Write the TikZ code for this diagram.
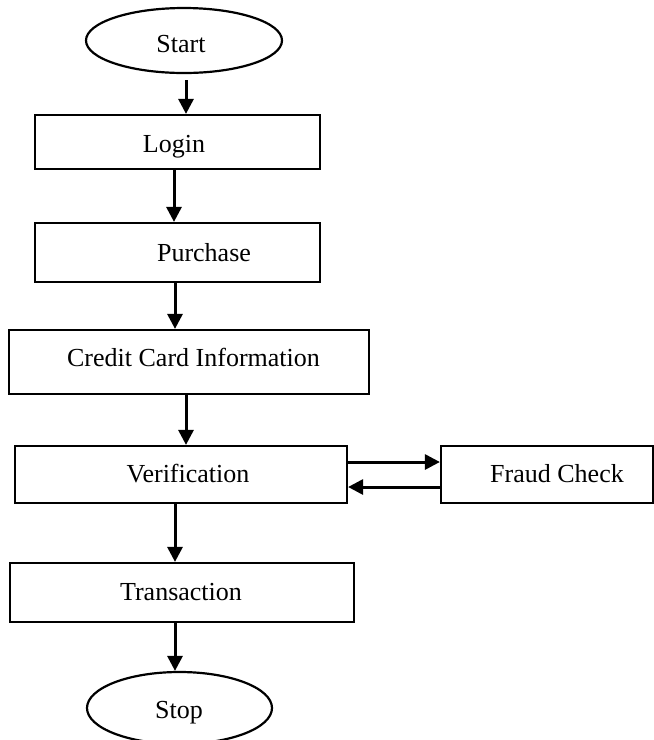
\documentclass[tikz,border=0pt]{standalone}
\usepackage{fontspec}
\setmainfont{Liberation Serif}
\usetikzlibrary{shapes.geometric,arrows.meta}
\tikzset{
  box/.style={draw, line width=2.2pt, rectangle, inner sep=0pt},
  oval/.style={draw, line width=2.2pt, ellipse, inner sep=0pt},
  lbl/.style={anchor=base, inner sep=0pt, font=\fontsize{26}{30}\selectfont},
  arr/.style={line width=3pt, -{Triangle[length=15pt,width=15pt]}}
}
\begin{document}
\begin{tikzpicture}[x=1pt,y=-1pt]
\useasboundingbox (0,0) rectangle (654,740);
% shapes
\node[oval, minimum width=196pt, minimum height=65pt] (start) at (184,40.5) {};
\node[box, minimum width=285pt, minimum height=54pt] (login) at (177.5,142) {};
\node[box, minimum width=285pt, minimum height=59pt] (purchase) at (177.5,252.5) {};
\node[box, minimum width=360pt, minimum height=64pt] (credit) at (189,362) {};
\node[box, minimum width=332pt, minimum height=57pt] (verif) at (181,474.5) {};
\node[box, minimum width=212pt, minimum height=57pt] (fraud) at (547,474.5) {};
\node[box, minimum width=344pt, minimum height=59pt] (trans) at (182,592.5) {};
\node[oval, minimum width=185pt, minimum height=72pt] (stop) at (179.5,708) {};
% texts
\node[lbl] (startT) at (181,52) {Start};
\node[lbl] (loginT) at (174,152) {Login};
\node[lbl] (purchaseT) at (204,261) {Purchase};
\node[lbl] (creditT) at (193.5,366) {Credit Card Information};
\node[lbl] (verifT) at (188,482) {Verification};
\node[lbl] (fraudT) at (557,482) {Fraud Check};
\node[lbl] (transT) at (181,600) {Transaction};
\node[lbl] (stopT) at (179,718) {Stop};
% connectors
\draw[arr] ([xshift=2pt,yshift=-6pt]start.south) -- ([xshift=2pt]start.south |- login.north);
\draw[arr] ([xshift=-3.5pt]login.south) -- ([xshift=-3.5pt]login.south |- purchase.north);
\draw[arr] ([xshift=-2.5pt]purchase.south) -- ([xshift=-2.5pt]purchase.south |- credit.north);
\draw[arr] ([xshift=-3pt]credit.south) -- ([xshift=-3pt]credit.south |- verif.north);
\draw[arr] ([yshift=12.5pt]verif.east) -- ([yshift=12.5pt]verif.east -| fraud.west);
\draw[arr] ([yshift=-12.5pt]fraud.west) -- ([yshift=-12.5pt]fraud.west -| verif.east);
\draw[arr] ([xshift=-6pt]verif.south) -- ([xshift=-6pt]verif.south |- trans.north);
\draw[arr] ([xshift=-7pt]trans.south) -- ([xshift=-7pt]trans.south |- stop.north);
\end{tikzpicture}
\end{document}
